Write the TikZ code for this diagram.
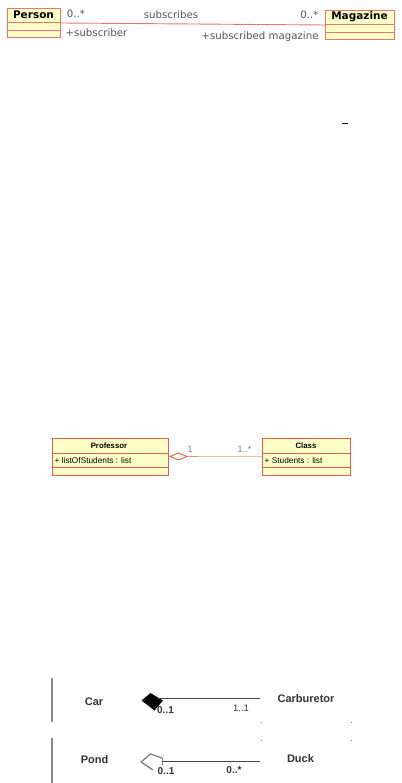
\documentclass[tikz,border=0pt]{standalone}
\usepackage{fontspec}
\setmainfont{DejaVu Sans}
\newfontfamily\lib{Liberation Sans}
\usetikzlibrary{arrows.meta}
\definecolor{umlred}{HTML}{F07070}
\definecolor{umlred2}{HTML}{EE5A4A}
\definecolor{umlyel}{HTML}{FFFFC8}
\definecolor{umlorange}{HTML}{FFB888}
\definecolor{txtgray}{HTML}{555555}
\definecolor{bargray}{HTML}{888888}
\definecolor{dkgray}{HTML}{333333}
\begin{document}
\begin{tikzpicture}[x=1pt,y=-1pt,
  umlbox/.style={draw=umlred, fill=umlyel, line width=1pt, inner sep=0pt, anchor=north west},
  umlbox2/.style={draw=umlred2, fill=umlyel, line width=0.9pt, inner sep=0pt, anchor=north west},
  toptitle/.style={font=\fontsize{10.5}{11}\selectfont\bfseries, text=black, inner sep=0pt},
  toplbl/.style={font=\fontsize{10.2}{11}\selectfont, text=txtgray, inner sep=0pt},
  smalltitle/.style={font=\lib\fontsize{7.8}{9}\selectfont\bfseries, inner sep=0pt},
  smalltxt/.style={font=\lib\fontsize{8.3}{9}\selectfont, inner sep=0pt, anchor=west},
  multlbl/.style={font=\lib\fontsize{9}{10}\selectfont, text=gray, inner sep=0pt},
  botname/.style={font=\lib\fontsize{11}{12}\selectfont\bfseries, text=dkgray, inner sep=0pt},
  botmult/.style={font=\lib\fontsize{10}{11}\selectfont\bfseries, text=dkgray, inner sep=0pt},
  botmultl/.style={font=\lib\fontsize{9.5}{11}\selectfont, text=dkgray, inner sep=0pt},
  dot/.style={fill=gray, inner sep=0pt, minimum size=1pt, draw=none}
]
\useasboundingbox (0,0) rectangle (401,783);
\fill[white] (0,0) rectangle (401,783);

% ---- top: Person / Magazine
\node[umlbox, minimum width=53pt, minimum height=29pt] (person) at (7,8) {};
\draw[umlred, line width=0.8pt] (7,22) -- (60,22) (7,30.5) -- (60,30.5);
\node[toptitle] (personT) at (33.5,15) {Person};

\node[umlbox, minimum width=69pt, minimum height=29pt] (magazine) at (325,10) {};
\draw[umlred, line width=0.8pt] (325,24) -- (394,24) (325,32) -- (394,32);
\node[toptitle] (magazineT) at (359.5,17) {Magazine};

\draw[umlred, line width=0.9pt] (person.east) -- (magazine.west);
\node[toplbl] (m1) at (76,14) {0..*};
\node[toplbl] (assocname) at (171,15) {subscribes};
\node[toplbl] (m2) at (309.5,15) {0..*};
\node[toplbl] (r1) at (96.5,33) {+subscriber};
\node[toplbl] (r2) at (260,37) {+subscribed magazine};

% small dash
\draw[black, line width=1.6pt] (342,123.5) -- (348,123.5);

% ---- middle: Professor / Class
\node[umlbox2, minimum width=116pt, minimum height=37pt] (prof) at (52,437.5) {};
\draw[umlred2, line width=0.8pt] (52,453) -- (168,453) (52,467) -- (168,467);
\node[smalltitle] (profT) at (109,446) {Professor};
\node[smalltxt] (profA) at (54.5,460.5) {+ listOfStudents : list};

\node[umlbox2, minimum width=88pt, minimum height=37pt] (cls) at (262,437.5) {};
\draw[umlred2, line width=0.8pt] (262,453) -- (350,453) (262,467) -- (350,467);
\node[smalltitle] (clsT) at (306,446) {Class};
\node[smalltxt] (clsA) at (264.5,460.5) {+ Students : list};

\draw[umlorange, line width=1pt, {Diamond[open, length=19pt, width=8pt, color=umlred2, line width=0.9pt]}-] (prof.east) -- (cls.west);
\draw[umlred2!70, line width=1pt] ([xshift=19pt]prof.east) -- ++(10,0);
\node[multlbl] (pm1) at (190,449.5) {1};
\node[multlbl] (pm2) at (244.5,449.5) {1..*};

% ---- bottom: Car / Carburetor, Pond / Duck
\draw[bargray, line width=2.5pt] (52,678) -- (52,722);
\draw[bargray, line width=2.5pt] (52,738) -- (52,783);

\node[botname] (car) at (94,702) {Car};
\node[botname] (carb) at (306,699) {Carburetor};
\coordinate (carend) at (158,698.5);
\coordinate (carbend) at (260,698.5);
\fill[black] (141.5,700.5) -- (150.5,693) -- (163,700.5) -- (154.5,710.5) -- cycle;
\draw[dkgray!90, line width=1pt] (carend) -- (carbend);
\node[botmult] (cm1) at (165.5,710) {0..1};
\node[botmultl] (cm2) at (241,708) {1..1};

\node[botname] (pond) at (94.5,760) {Pond};
\node[botname] (duck) at (300.5,759) {Duck};
\coordinate (pondend) at (162,761);
\coordinate (duckend) at (260,761);
\draw[gray, line width=1.3pt, line join=round] (162,758) -- (150.5,754) -- (141,762) -- (153,770);
\draw[gray, line width=1pt] (162,757.5) -- (162,765);
\draw[dkgray!90, line width=1pt] (pondend) -- (duckend);
\node[botmult] (pm3) at (166,771) {0..1};
\node[botmult] (pm4) at (234,770) {0..*};

\node[dot] (d1) at (261,722) {};
\node[dot] (d2) at (351,722) {};
\node[dot] (d3) at (261,740) {};
\node[dot] (d4) at (351,740) {};
\end{tikzpicture}
\end{document}
